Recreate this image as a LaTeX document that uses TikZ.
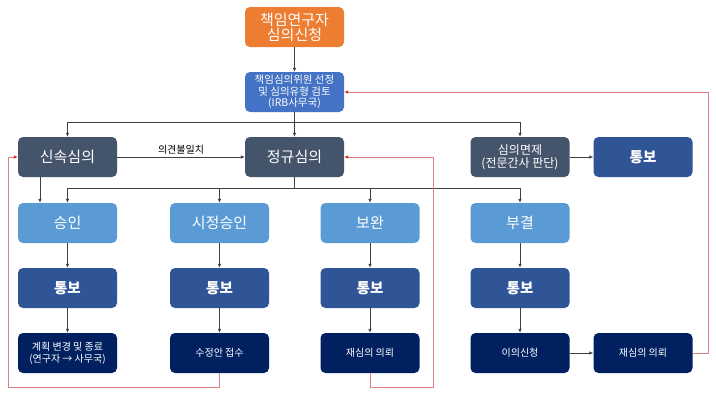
\documentclass[tikz,border=0pt]{standalone}
\usepackage{fontspec}
\setmainfont{Noto Sans CJK KR}
\usetikzlibrary{arrows.meta}
\definecolor{corange}{HTML}{ED7D31}
\definecolor{cirb}{HTML}{4472C4}
\definecolor{cslate}{HTML}{44546A}
\definecolor{clight}{HTML}{5B9BD5}
\definecolor{cmid}{HTML}{2F5597}
\definecolor{cnavy}{HTML}{002060}
\definecolor{cline}{HTML}{404040}
\definecolor{cred}{HTML}{E08080}
\definecolor{credtip}{HTML}{E02020}
\tikzset{
  box/.style={rounded corners=5pt, minimum width=99pt, minimum height=40pt, inner sep=1pt, text=white, align=center, font=\fontsize{15}{16}\selectfont},
  smallbox/.style={box, font=\fontsize{10}{12}\selectfont},
  bigbold/.style={font=\bfseries\fontsize{14.5}{15}\selectfont},
  arr/.style={draw=cline, line width=0.7pt, -{Latex[length=4pt,width=3.5pt]}},
  plain/.style={draw=cline, line width=0.7pt},
  redarr/.style={draw=cred, line width=1pt, -{Latex[length=4pt,width=3.5pt,color=credtip]}},
}
\begin{document}
\begin{tikzpicture}[x=1pt,y=-1pt]
\useasboundingbox (0,0) rectangle (716,400);
% top rows
\node[box, fill=corange] (top) at (294.5,27) {책임연구자\\[-1pt]심의신청};
\node[box, fill=cirb, font=\fontsize{10.5}{11.5}\selectfont] (irb) at (294.5,92) {책임심의위원 선정\\및 심의유형 검토\\(IRB사무국)};
\node[box, fill=cslate] (sin) at (67.5,157) {신속심의};
\node[box, fill=cslate] (jung) at (294.5,157) {정규심의};
\node[box, fill=cslate, font=\fontsize{12}{13.5}\selectfont] (myeon) at (520,157) {심의면제\\(전문간사 판단)};
\node[box, fill=cmid, bigbold] (tb0) at (643,157) {통보};
% row 2
\node[box, fill=clight] (sg) at (67.5,223) {승인};
\node[box, fill=clight] (sj) at (219.5,223) {시정승인};
\node[box, fill=clight] (bw) at (370,223) {보완};
\node[box, fill=clight] (bg) at (520,223) {부결};
% row 3
\node[box, fill=cmid, bigbold] (t1) at (67.5,288) {통보};
\node[box, fill=cmid, bigbold] (t2) at (219.5,288) {통보};
\node[box, fill=cmid, bigbold] (t3) at (370,288) {통보};
\node[box, fill=cmid, bigbold] (t4) at (520,288) {통보};
% row 4
\node[smallbox, fill=cnavy] (e1) at (67.5,353) {계획 변경 및 종료\\(연구자 → 사무국)};
\node[smallbox, fill=cnavy] (e2) at (219.5,353) {수정안 접수};
\node[smallbox, fill=cnavy] (e3) at (370,353) {재심의 의뢰};
\node[smallbox, fill=cnavy] (e4) at (520,353) {이의신청};
\node[smallbox, fill=cnavy] (e5) at (643,353) {재심의 의뢰};
% connectors
\coordinate (hy) at (294.5,122);
\coordinate (vy) at (294.5,188);
\draw[arr] (top) -- (irb);
\draw[arr] (irb) -- (jung);
\draw[arr] (hy) -| (sin.north);
\draw[arr] (hy) -| (myeon.north);
\draw[arr] (sin.east) -- node[above, text=black, font=\fontsize{10}{11}\selectfont, inner sep=2pt] {의견불일치} (jung.west);
\draw[arr] (myeon) -- (tb0);
\draw[arr] ([xshift=-27.5pt]sin.south) -- ([xshift=-27.5pt]sg.north);
\draw[plain] (jung.south) -- (vy);
\draw[arr] (vy) -| (sg.north);
\draw[arr] (vy) -| (sj.north);
\draw[arr] (vy) -| (bw.north);
\draw[arr] (vy) -| (bg.north);
\draw[arr] (sg) -- (t1);
\draw[arr] (t1) -- (e1);
\draw[arr] (sj) -- (t2);
\draw[arr] (t2) -- (e2);
\draw[arr] (bw) -- (t3);
\draw[arr] (t3) -- (e3);
\draw[arr] (bg) -- (t4);
\draw[arr] (t4) -- (e4);
\draw[arr] (e4) -- (e5);
% red feedback lines
\coordinate (r1) at (8,387);
\coordinate (r2) at (433,387);
\coordinate (r3) at (708,353);
\draw[redarr] (e2.south) |- (r1) |- (sin.west);
\draw[redarr] (e3.south) |- (r2) |- (jung.east);
\draw[redarr] (e5.east) -- (r3) |- (irb.east);
\end{tikzpicture}
\end{document}
